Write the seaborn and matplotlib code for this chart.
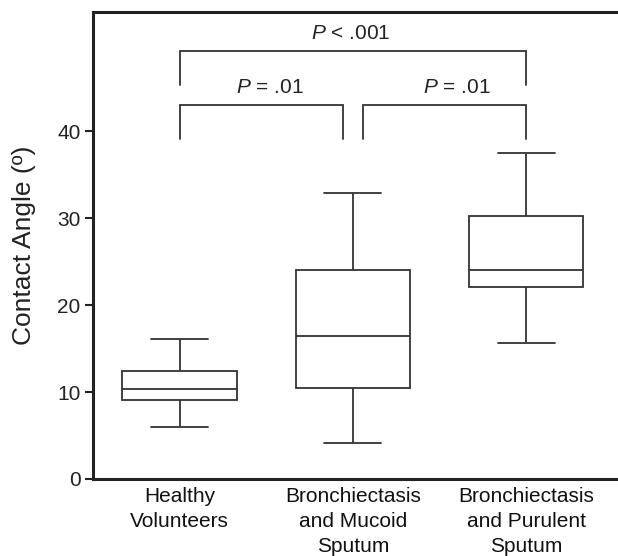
import matplotlib
matplotlib.use("Agg")
import matplotlib.pyplot as plt
import seaborn as sns
import pandas as pd

# Five-number summaries (min, Q1, median, Q3, max)
categories = ["Healthy\nVolunteers",
              "Bronchiectasis\nand Mucoid\nSputum",
              "Bronchiectasis\nand Purulent\nSputum"]
healthy = [6.0, 9.1, 10.3, 12.4, 16.1]
mucoid = [4.1, 10.5, 16.5, 24.1, 32.9]
purulent = [15.7, 22.1, 24.1, 30.3, 37.5]
yticks = [0, 10, 20, 30, 40]
p_labels = ["$\\it{P}$ < .001", "$\\it{P}$ = .01", "$\\it{P}$ = .01"]

sns.set_style("ticks")
plt.rcParams["font.family"] = ["Liberation Sans", "DejaVu Sans"]
plt.rcParams["mathtext.fontset"] = "custom"
plt.rcParams["mathtext.it"] = "Liberation Sans:italic"
plt.rcParams["mathtext.rm"] = "Liberation Sans"

df = pd.DataFrame({
    "group": [categories[0]] * len(healthy) + [categories[1]] * len(mucoid) + [categories[2]] * len(purulent),
    "angle": healthy + mucoid + purulent,
})

fig = plt.figure(figsize=(6.18, 5.56), dpi=100)
ax = fig.add_axes([0.1505, 0.1385, 0.8495, 0.8395])

line_c = "#333333"
sns.boxplot(data=df, x="group", y="angle", order=categories, whis=(0, 100),
            width=0.66, color="white", linecolor=line_c, linewidth=1.3, ax=ax)

ax.set_xlim(-0.5, 2.53)
ax.set_ylim(0, 53.7)
ax.set_yticks(yticks)
ax.set_xlabel("")
ax.set_ylabel("Contact Angle (º)", fontsize=19, color="#222222", labelpad=15)
ax.tick_params(axis="y", labelsize=15, length=6, width=1.5, color="#222222",
               labelcolor="#222222", pad=3)
ax.tick_params(axis="x", labelsize=15, length=0, pad=6, labelcolor="#111111")
for lab in ax.get_xticklabels():
    lab.set_linespacing(1.38)

for s in ["left", "bottom", "top"]:
    ax.spines[s].set_linewidth(2.2)
    ax.spines[s].set_color("#222222")
ax.spines["right"].set_visible(False)

# significance brackets
def bracket(x0, x1, y, drop, label, tx):
    ax.plot([x0, x0, x1, x1], [y - drop, y, y, y - drop], color=line_c, lw=1.3,
            solid_joinstyle="miter")
    ax.text(tx, y + 1.0, label, ha="center", va="bottom", fontsize=15, color="#222222")

bracket(0, 2, 49.2, 3.9, p_labels[0], 0.99)
bracket(0, 0.94, 43.0, 3.9, p_labels[1], 0.52)
bracket(1.06, 2, 43.0, 3.9, p_labels[2], 1.6)

fig.savefig("out.png", dpi=100)
